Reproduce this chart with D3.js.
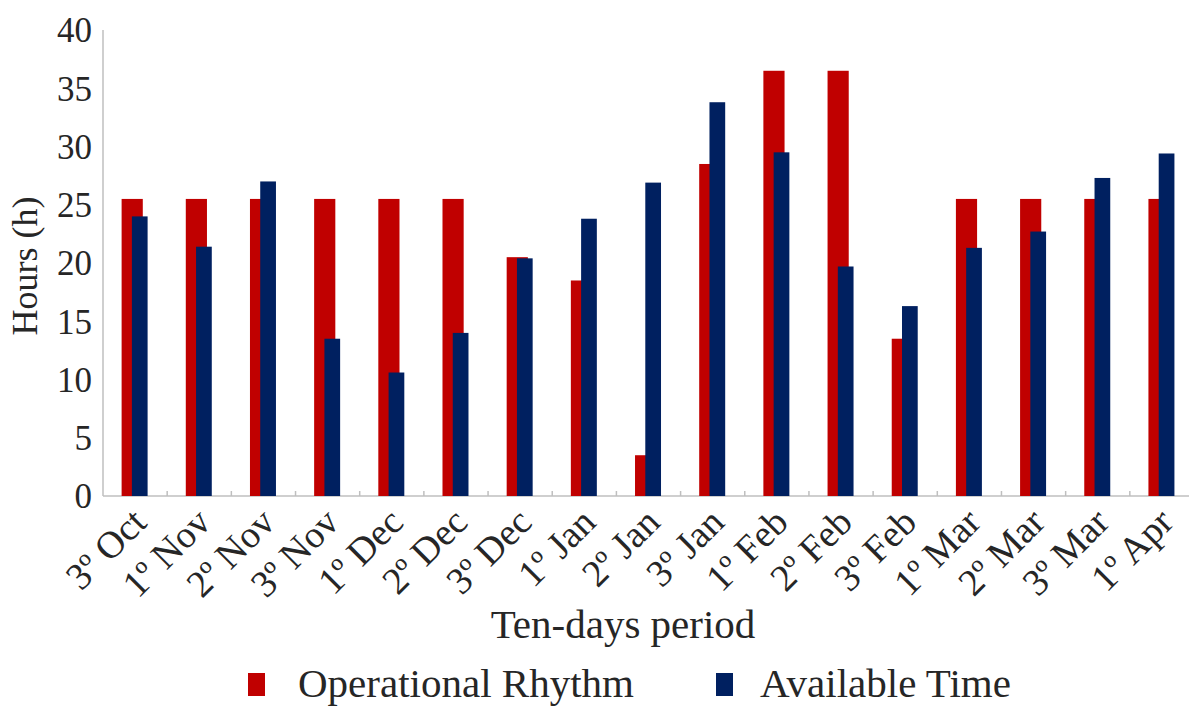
<!DOCTYPE html>
<html><head><meta charset="utf-8">
<script src="https://cdn.jsdelivr.net/npm/d3@7"></script>
<style>body{margin:0;background:#fff}svg{display:block}</style>
</head><body>
<script>
const categories = ["3º Oct","1º Nov","2º Nov","3º Nov","1º Dec","2º Dec","3º Dec","1º Jan","2º Jan","3º Jan","1º Feb","2º Feb","3º Feb","1º Mar","2º Mar","3º Mar","1º Apr"];
const operationalRhythm = [25.5,25.5,25.5,25.5,25.5,25.5,20.5,18.5,3.5,28.5,36.5,36.5,13.5,25.5,25.5,25.5,25.5];
const availableTime = [24,21.4,27,13.5,10.6,14,20.4,23.8,26.9,33.8,29.5,19.7,16.3,21.3,22.7,27.3,29.4];
const yTicks = [0,5,10,15,20,25,30,35,40];
const seriesNames = ["Operational Rhythm","Available Time"];
const colors = ["#C00000","#002060"];
const FONT = '"Liberation Serif"';
const TXT = "#262626";

const W=1189,H=707;
const svg=d3.select("body").append("svg").attr("width",W).attr("height",H);
const x=d3.scaleBand().domain(categories).range([103,1194]).padding(0);
const y=d3.scaleLinear().domain([0,40]).range([496,30]);
const bw=x.bandwidth();
const T=(sel,size)=>sel.style("font-family",FONT).style("font-size",size+"px").style("fill",TXT);

// axes lines
svg.append("line").attr("x1",103).attr("x2",103).attr("y1",y(40)).attr("y2",y(0)).attr("stroke","#BFBFBF").attr("stroke-width",1.5);
svg.append("line").attr("x1",103).attr("x2",1194).attr("y1",y(0)).attr("y2",y(0)).attr("stroke","#BFBFBF").attr("stroke-width",1.5);
svg.selectAll(".xt").data(categories.slice(1)).enter().append("line")
  .attr("x1",d=>x(d)).attr("x2",d=>x(d)).attr("y1",y(0)).attr("y2",y(0)-5).attr("stroke","#BFBFBF").attr("stroke-width",1.5);

// y tick labels
T(svg.selectAll(".yl").data(yTicks).enter().append("text")
  .attr("x",92).attr("y",d=>y(d)).attr("dy","0.35em").attr("text-anchor","end").text(d=>d),35);

// bars
svg.selectAll(".r").data(operationalRhythm).enter().append("rect")
  .attr("x",(d,i)=>x(categories[i])+0.29*bw).attr("width",0.33*bw)
  .attr("y",d=>y(d)).attr("height",d=>y(0)-y(d)).attr("fill",colors[0]);
svg.selectAll(".b").data(availableTime).enter().append("rect")
  .attr("x",(d,i)=>x(categories[i])+0.45*bw).attr("width",0.245*bw)
  .attr("y",d=>y(d)).attr("height",d=>y(0)-y(d)).attr("fill",colors[1]);

// x labels
T(svg.selectAll(".xl").data(categories).enter().append("text")
  .attr("transform",d=>`translate(${x(d)+bw/2+4},${y(0)+19}) rotate(-45)`)
  .attr("text-anchor","end").attr("dy","0.35em").text(d=>d),38);

// axis titles
T(svg.append("text").attr("x",623).attr("y",638).attr("text-anchor","middle").text("Ten-days period"),41);
T(svg.append("text").attr("transform","translate(37,266) rotate(-90)").attr("text-anchor","middle").text("Hours (h)"),36);

// legend
const leg=[{x:248,tx:298},{x:716,tx:760}];
seriesNames.forEach((n,i)=>{
  svg.append("rect").attr("x",leg[i].x).attr("y",673).attr("width",17).attr("height",23).attr("fill",colors[i]);
  T(svg.append("text").attr("x",leg[i].tx).attr("y",697).text(n),41);
});
</script>
</body></html>
